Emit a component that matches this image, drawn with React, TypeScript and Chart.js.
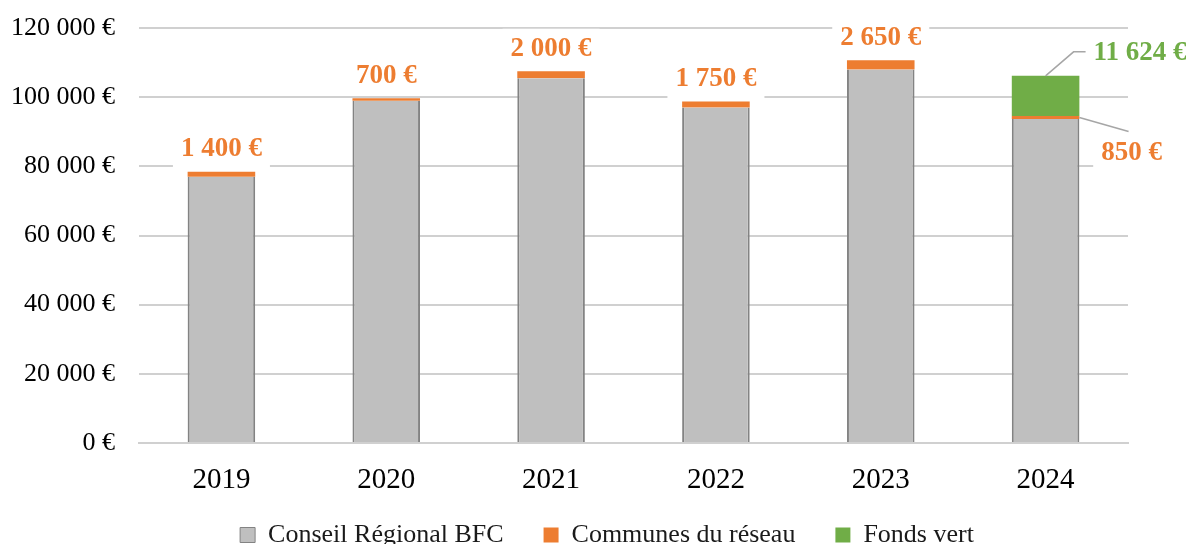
import React, { useEffect, useRef } from 'react';
import { Chart, registerables } from 'chart.js';

Chart.register(...registerables);

const years = ['2019', '2020', '2021', '2022', '2023', '2024'];
const conseilRegional = [77000, 99000, 105500, 97000, 108000, 93700];
const communesReseau = [1400, 700, 2000, 1750, 2650, 850];
const fondsVert = [0, 0, 0, 0, 0, 11624];
const communesLabels = ['1 400 €', '700 €', '2 000 €', '1 750 €', '2 650 €', '850 €'];
const fondsLabels = ['', '', '', '', '', '11 624 €'];

const FONT = "'Liberation Serif', 'DejaVu Serif', serif";
const ORANGE = '#ED7D31';
const GREEN = '#70AD47';

function formatEuro(v: number): string {
  const s = Math.round(v).toString();
  const parts: string[] = [];
  for (let i = s.length; i > 0; i -= 3) parts.unshift(s.slice(Math.max(0, i - 3), i));
  return parts.join(' ') + ' €';
}

const legendPlacement = {
  id: 'legendPlacement',
  beforeLayout(chart: any) {
    const lg = chart.legend;
    if (lg && !lg.__patched) {
      const orig = lg.fit.bind(lg);
      lg.fit = function () {
        orig();
        this.height = 43;
      };
      lg.__patched = true;
    }
  },
  afterLayout(chart: any) {
    const lg = chart.legend;
    if (!lg) return;
    const shiftX = 43;
    lg.top = 482;
    lg.bottom = 572;
    lg.height = 90;
    lg.left += shiftX;
    lg.right += shiftX;
  },
};

const labelPlugin = {
  id: 'valueLabels',
  afterDatasetsDraw(chart: any) {
    const ctx = chart.ctx;
    const orangeMeta = chart.getDatasetMeta(1);
    const greenMeta = chart.getDatasetMeta(2);
    ctx.save();
    ctx.font = `bold 27px ${FONT}`;
    ctx.textBaseline = 'middle';
    years.forEach((_, i) => {
      const bar = orangeMeta.data[i];
      if (!bar) return;
      if (!fondsLabels[i]) {
        const txt = communesLabels[i];
        const w = ctx.measureText(txt).width;
        const cy = Math.max(bar.y - 22.5, 38);
        ctx.fillStyle = '#FFFFFF';
        ctx.fillRect(bar.x - w / 2 - 8, cy - 20, w + 16, 40);
        ctx.fillStyle = ORANGE;
        ctx.textAlign = 'center';
        ctx.fillText(txt, bar.x, cy);
      } else {
        const g = greenMeta.data[i];
        ctx.strokeStyle = '#A6A6A6';
        ctx.lineWidth = 1.5;
        ctx.beginPath();
        ctx.moveTo(g.x, g.y);
        ctx.lineTo(g.x + 28, g.y - 24);
        ctx.lineTo(g.x + 40, g.y - 24);
        ctx.stroke();
        ctx.fillStyle = GREEN;
        ctx.textAlign = 'left';
        ctx.fillText(fondsLabels[i], g.x + 48, g.y - 23);
        const oy = (bar.y + bar.base) / 2;
        const txt = communesLabels[i];
        const w = ctx.measureText(txt).width;
        const cx = bar.x + 86;
        const cy = oy + 36;
        ctx.fillStyle = '#FFFFFF';
        ctx.fillRect(cx - w / 2 - 8, cy - 20, w + 16, 40);
        ctx.beginPath();
        ctx.moveTo(bar.x + bar.width / 2, oy);
        ctx.lineTo(bar.x + 83, oy + 14);
        ctx.stroke();
        ctx.fillStyle = ORANGE;
        ctx.textAlign = 'center';
        ctx.fillText(txt, cx, cy);
      }
    });
    ctx.restore();
  },
};

export default function App() {
  const canvasRef = useRef<HTMLCanvasElement | null>(null);

  useEffect(() => {
    document.body.style.margin = '0';
    document.documentElement.style.overflow = 'hidden';
    const canvas = canvasRef.current;
    if (!canvas) return;
    const chart = new Chart(canvas, {
      type: 'bar',
      data: {
        labels: years,
        datasets: [
          {
            label: 'Conseil Régional BFC',
            data: conseilRegional,
            backgroundColor: '#BFBFBF',
            borderColor: '#838383',
            borderWidth: { top: 0, left: 2, right: 2, bottom: 0 },
            borderSkipped: false,
          },
          {
            label: 'Communes du réseau',
            data: communesReseau,
            backgroundColor: ORANGE,
            borderWidth: 0,
          },
          {
            label: 'Fonds vert',
            data: fondsVert,
            backgroundColor: GREEN,
            borderWidth: 0,
          },
        ],
      },
      options: {
        animation: false,
        responsive: false,
        maintainAspectRatio: false,
        datasets: { bar: { barPercentage: 0.41, categoryPercentage: 1 } },
        layout: { padding: { top: 28, right: 58, left: 0, bottom: 0 } },
        plugins: {
          tooltip: { enabled: false },
          legend: {
            position: 'bottom',
            labels: {
              font: { family: FONT, size: 26 },
              color: '#1a1a1a',
              boxWidth: 15,
              boxHeight: 15,
              padding: 40,
            },
          },
        },
        scales: {
          x: {
            stacked: true,
            grid: { display: false, drawTicks: false },
            border: { display: true, color: '#D0D0D0', width: 2 },
            ticks: { font: { family: FONT, size: 29 }, color: '#000000', padding: 20 },
            afterFit: (scale: any) => {
              scale.height = 58;
            },
          },
          y: {
            stacked: true,
            min: 0,
            max: 120000,
            grid: { color: '#D0D0D0', lineWidth: 2, drawTicks: false },
            border: { display: false },
            ticks: {
              stepSize: 20000,
              font: { family: FONT, size: 26 },
              color: '#000000',
              padding: 24,
              callback: (v: any) => formatEuro(Number(v)),
            },
            afterFit: (scale: any) => {
              scale.width = 139;
              scale.paddingTop = 0;
              scale.paddingBottom = 0;
            },
          },
        },
      },
      plugins: [legendPlacement, labelPlugin],
    });
    return () => chart.destroy();
  }, []);

  return (
    <div style={{ width: 1186, height: 544, overflow: 'hidden' }}>
      <canvas ref={canvasRef} width={1186} height={544} style={{ display: 'block' }} />
    </div>
  );
}
